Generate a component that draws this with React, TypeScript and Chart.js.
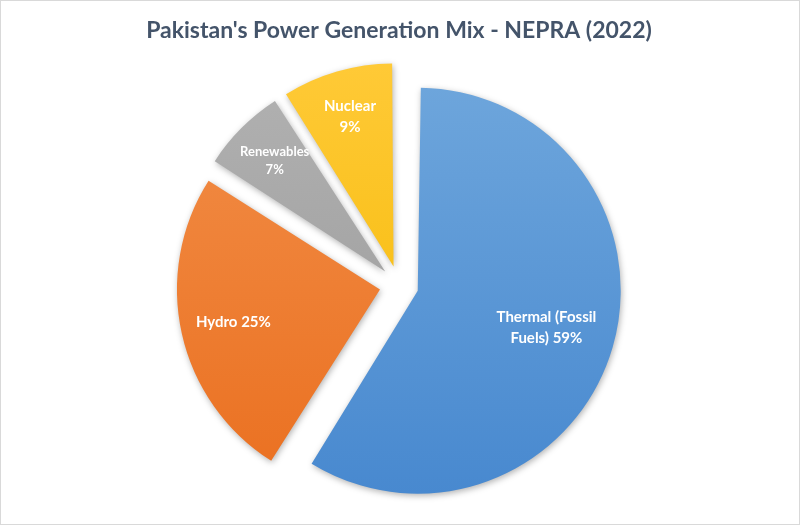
import React, { useEffect, useRef } from "react";
import { Chart, registerables } from "chart.js";

Chart.register(...registerables);

const TITLE = "Pakistan's Power Generation Mix - NEPRA (2022)";
const categories = ["Thermal (Fossil Fuels)", "Hydro", "Renewables", "Nuclear"];
const values = [59, 25, 7, 9];
const labelLines = [
  ["Thermal (Fossil", "Fuels) 59%"],
  ["Hydro 25%"],
  ["Renewables", "7%"],
  ["Nuclear", "9%"],
];
const gradTop = ["#6EA6DC", "#F28E48", "#B2B2B2", "#FFCA38"];
const gradBottom = ["#4788CF", "#EA6F1F", "#989898", "#F4B800"];
const labelFrac = [0.66, 0.74, 0.77, 0.77];
const labelSize = [15, 15, 13, 15];
const PIE_RADIUS = 203;

const sliceLabels = {
  id: "sliceLabels",
  beforeDatasetsDraw(chart: any) {
    const ctx = chart.ctx;
    // keep every exploded slice at the same drawn radius
    const meta = chart.getDatasetMeta(0);
    meta.data.forEach((el: any) => {
      const off = (el.options.offset || 0) / 4;
      const circ = el.endAngle - el.startAngle;
      const fix = 1 - Math.sin(Math.min(Math.PI, circ));
      el.outerRadius = PIE_RADIUS - off * fix;
    });
    ctx.save();
    ctx.shadowColor = "rgba(0,0,0,0.30)";
    ctx.shadowBlur = 6;
    ctx.shadowOffsetX = 1;
    ctx.shadowOffsetY = 2;
  },
  afterDatasetsDraw(chart: any) {
    const ctx = chart.ctx;
    ctx.restore();
    const meta = chart.getDatasetMeta(0);
    ctx.save();
    ctx.fillStyle = "#FFFFFF";
    ctx.textAlign = "center";
    ctx.textBaseline = "middle";
    meta.data.forEach((el: any, i: number) => {
      const p = el.getProps(["x", "y", "startAngle", "endAngle"], true);
      const mid = (p.startAngle + p.endAngle) / 2;
      const off = (el.options.offset || 0) / 4;
      const r = off + labelFrac[i] * PIE_RADIUS;
      const cx = p.x + Math.cos(mid) * r;
      const cy = p.y + Math.sin(mid) * r;
      const lines = labelLines[i];
      const lh = labelSize[i] * 1.4;
      ctx.font = `bold ${labelSize[i]}px Lato, "Open Sans", sans-serif`;
      lines.forEach((ln, k) => {
        ctx.fillText(ln, cx, cy + (k - (lines.length - 1) / 2) * lh);
      });
    });
    ctx.restore();
  },
};

export default function App() {
  const ref = useRef<HTMLCanvasElement>(null);
  useEffect(() => {
    if (!ref.current) return;
    const chart = new Chart(ref.current, {
      type: "pie",
      data: {
        labels: categories,
        datasets: [
          {
            data: values,
            backgroundColor: (c: any) => {
              const { chart } = c;
              const area = chart.chartArea;
              if (!area) return gradTop[c.dataIndex];
              const g = chart.ctx.createLinearGradient(0, area.top, 0, area.bottom);
              g.addColorStop(0, gradTop[c.dataIndex]);
              g.addColorStop(1, gradBottom[c.dataIndex]);
              return g;
            },
            borderWidth: 0,
            offset: 78,
            hoverOffset: 78,
          },
        ],
      },
      options: {
        responsive: true,
        maintainAspectRatio: false,
        animation: false,
        radius: PIE_RADIUS,
        layout: { padding: { left: 0, right: 2, top: 0, bottom: 24.5 } },
        plugins: {
          legend: { display: false },
          tooltip: { enabled: false },
          title: {
            display: true,
            text: TITLE,
            color: "#44546A",
            font: { family: "Lato, 'Open Sans', sans-serif", size: 23, weight: "bold", lineHeight: 1.2 },
            padding: { top: 16, bottom: 26.3 },
          },
        },
      },
      plugins: [sliceLabels],
    });
    return () => chart.destroy();
  }, []);
  return (
    <div
      style={{
        position: "fixed",
        left: 0,
        top: 0,
        width: 800,
        height: 525,
        boxSizing: "border-box",
        border: "1px solid #D9D9D9",
        background: "#FFFFFF",
      }}
    >
      <canvas ref={ref} />
    </div>
  );
}
